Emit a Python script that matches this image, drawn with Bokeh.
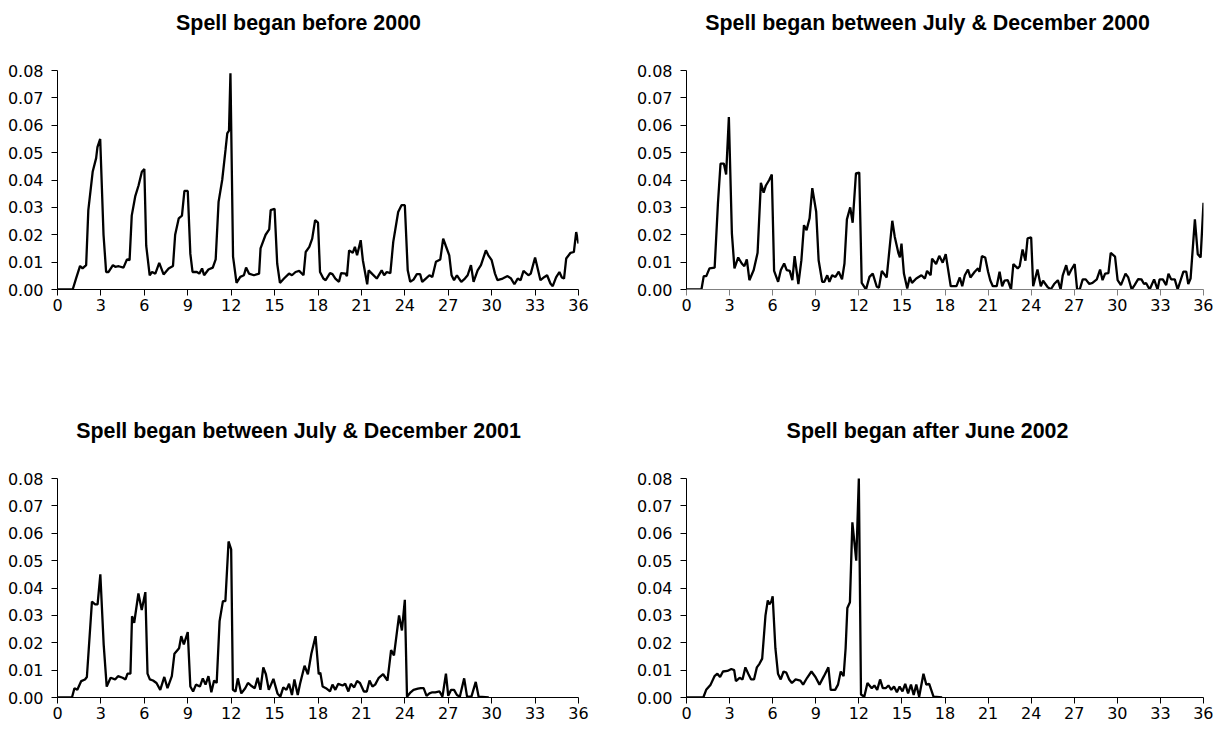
from bokeh.plotting import figure
from bokeh.models import Range1d, FixedTicker, NumeralTickFormatter, Label
from bokeh.layouts import row, column
from bokeh.embed import file_html
from bokeh.resources import INLINE

# months since the spell began, and the exit rate read at each point
months_before_2000 = [
    0, 1.05, 1.28, 1.56, 1.73, 1.98, 2.13, 2.43, 2.67, 2.76, 2.95, 3.18, 3.36, 3.53,
    3.83, 3.99, 4.23, 4.56, 4.8, 4.98, 5.13, 5.37, 5.6, 5.83, 6.0, 6.13, 6.37, 6.53,
    6.76, 7.03, 7.33, 7.68, 7.98, 8.13, 8.38, 8.6, 8.77, 9.0, 9.18, 9.33, 9.63, 9.8,
    9.99, 10.13, 10.43, 10.73, 10.93, 11.13, 11.38, 11.61, 11.73, 11.85, 11.95, 12.13,
    12.37, 12.63, 12.88, 13.03, 13.23, 13.57, 13.93, 14.03, 14.38, 14.63, 14.73, 15.0,
    15.18, 15.37, 15.65, 16.0, 16.2, 16.45, 16.7, 17.0, 17.15, 17.4, 17.6, 17.8, 18.0,
    18.14, 18.37, 18.53, 18.83, 19.0, 19.2, 19.45, 19.6, 19.9, 20.0, 20.15, 20.4,
    20.55, 20.7, 20.95, 21.1, 21.4, 21.5, 21.76, 22.06, 22.4, 22.57, 22.75, 23.0,
    23.2, 23.54, 23.77, 24.0, 24.2, 24.37, 24.6, 24.83, 25.06, 25.2, 25.45, 25.7,
    25.9, 26.15, 26.45, 26.65, 26.84, 27.07, 27.23, 27.4, 27.6, 27.9, 28.15, 28.34,
    28.57, 28.75, 29.03, 29.26, 29.6, 29.77, 30.0, 30.23, 30.4, 30.76, 31.1, 31.34,
    31.57, 31.8, 32.0, 32.2, 32.54, 32.7, 33.0, 33.37, 33.65, 33.83, 34.06, 34.22,
    34.45, 34.68, 34.85, 35.0, 35.15, 35.45, 35.68, 35.84, 36.0,
]
rate_before_2000 = [
    0, 0, 0.004, 0.0086, 0.0077, 0.0089, 0.029, 0.043, 0.048, 0.052, 0.055, 0.020,
    0.0064, 0.0064, 0.0089, 0.0083, 0.0085, 0.008, 0.011, 0.0107, 0.027, 0.034, 0.038,
    0.043, 0.044, 0.016, 0.0052, 0.0064, 0.0058, 0.0097, 0.0055, 0.0077, 0.0086, 0.020,
    0.026, 0.027, 0.036, 0.036, 0.013, 0.0064, 0.0064, 0.0058, 0.0077, 0.0052, 0.0073,
    0.008, 0.011, 0.032, 0.040, 0.051, 0.057, 0.058, 0.079, 0.012, 0.0024, 0.0046,
    0.0052, 0.008, 0.0058, 0.0052, 0.0058, 0.015, 0.020, 0.022, 0.029, 0.0295, 0.0095,
    0.0024, 0.004, 0.0058, 0.0052, 0.0064, 0.0068, 0.0052, 0.0137, 0.0156, 0.0186,
    0.0253, 0.0244, 0.0064, 0.004, 0.0034, 0.006, 0.0056, 0.004, 0.0028, 0.006, 0.0058,
    0.0049, 0.0143, 0.0134, 0.0156, 0.0125, 0.018, 0.0107, 0.0019, 0.007, 0.0056,
    0.004, 0.007, 0.0052, 0.0064, 0.006, 0.0174, 0.0283, 0.0308, 0.0308, 0.007, 0.0028,
    0.0036, 0.0056, 0.0056, 0.0028, 0.004, 0.0052, 0.0046, 0.0101, 0.011, 0.0186,
    0.0158, 0.0125, 0.0052, 0.0034, 0.0052, 0.0028, 0.004, 0.0052, 0.0089, 0.0028,
    0.007, 0.0089, 0.0143, 0.0125, 0.0107, 0.0058, 0.0034, 0.004, 0.0049, 0.004,
    0.0019, 0.004, 0.0034, 0.0068, 0.0052, 0.0058, 0.0117, 0.0034, 0.0046, 0.0052,
    0.0022, 0.0012, 0.0044, 0.0064, 0.0044, 0.004, 0.0113, 0.0134, 0.0137, 0.021, 0.0168,
]

months_jul_dec_2000 = [
    0, 1.04, 1.2, 1.38, 1.6, 1.96, 2.19, 2.37, 2.6, 2.76, 2.95, 3.16, 3.34, 3.6, 3.85,
    4.03, 4.2, 4.38, 4.68, 4.95, 5.18, 5.37, 5.53, 5.76, 5.94, 6.1, 6.38, 6.57, 6.8,
    6.98, 7.19, 7.37, 7.53, 7.79, 8.0, 8.18, 8.36, 8.57, 8.76, 9.03, 9.2, 9.45, 9.6,
    9.8, 9.95, 10.14, 10.37, 10.6, 10.83, 11.0, 11.17, 11.4, 11.57, 11.8, 12.03, 12.2,
    12.5, 12.74, 12.97, 13.25, 13.4, 13.6, 13.94, 14.33, 14.5, 14.75, 14.86, 14.97,
    15.14, 15.37, 15.55, 15.7, 16.0, 16.36, 16.6, 16.75, 17.0, 17.1, 17.38, 17.6, 17.84,
    18.05, 18.4, 18.8, 19.03, 19.2, 19.38, 19.6, 19.77, 20.07, 20.3, 20.4, 20.57, 20.8,
    21.0, 21.15, 21.33, 21.6, 21.8, 21.98, 22.14, 22.37, 22.6, 22.76, 23.06, 23.2, 23.4,
    23.6, 23.75, 24.0, 24.14, 24.44, 24.67, 24.83, 25.13, 25.36, 25.6, 25.86, 26.05,
    26.2, 26.44, 26.6, 26.8, 27.03, 27.2, 27.38, 27.59, 27.8, 28.05, 28.27, 28.57, 28.8,
    28.97, 29.15, 29.38, 29.54, 29.84, 30.02, 30.25, 30.57, 30.76, 31.0, 31.2, 31.45,
    31.68, 31.86, 32.0, 32.25, 32.56, 32.8, 32.94, 33.17, 33.4, 33.56, 33.75, 34.0, 34.2,
    34.6, 34.8, 34.94, 35.1, 35.4, 35.6, 35.8, 36.0,
]
rate_jul_dec_2000 = [
    0, 0, 0.0049, 0.0049, 0.0077, 0.008, 0.0315, 0.046, 0.046, 0.042, 0.063, 0.0205,
    0.0077, 0.0117, 0.0095, 0.0085, 0.011, 0.0034, 0.0071, 0.0134, 0.039, 0.0354, 0.038,
    0.040, 0.042, 0.0068, 0.0028, 0.0071, 0.0095, 0.0071, 0.0068, 0.0034, 0.0122, 0.002,
    0.0107, 0.0235, 0.0217, 0.026, 0.037, 0.0284, 0.0107, 0.0028, 0.0028, 0.0052, 0.0028,
    0.0052, 0.0046, 0.0065, 0.0037, 0.0095, 0.0256, 0.030, 0.0244, 0.0424, 0.0427,
    0.0024, 0.0, 0.0046, 0.0058, 0.001, 0.0007, 0.0068, 0.0044, 0.0251, 0.0193, 0.0134,
    0.0117, 0.0168, 0.0058, 0.0004, 0.0046, 0.0024, 0.004, 0.0052, 0.004, 0.0068, 0.0052,
    0.0113, 0.0093, 0.0123, 0.0098, 0.0129, 0.0012, 0.0012, 0.0044, 0.0012, 0.0052,
    0.0073, 0.0044, 0.0065, 0.0077, 0.0065, 0.0122, 0.0117, 0.0065, 0.0034, 0.0012,
    0.0012, 0.0065, 0.0012, 0.0032, 0.0034, 0.0, 0.0093, 0.0077, 0.0085, 0.0146, 0.0105,
    0.0187, 0.019, 0.0012, 0.0073, 0.0012, 0.0032, 0.001, 0.0, 0.002, 0.0034, 0.0,
    0.0052, 0.0089, 0.0052, 0.0073, 0.0093, 0.0, 0.0, 0.0037, 0.0037, 0.002, 0.0024,
    0.0037, 0.0073, 0.0034, 0.0058, 0.006, 0.0134, 0.012, 0.0034, 0.0016, 0.0058, 0.0044,
    0.0, 0.0016, 0.0038, 0.0037, 0.002, 0.0024, 0.0, 0.0037, 0.0, 0.0037, 0.0037, 0.0016,
    0.0058, 0.0037, 0.0037, 0.0, 0.0065, 0.0065, 0.002, 0.004, 0.0256, 0.0129, 0.0117,
    0.0317,
]

months_jul_dec_2001 = [
    0, 1.0, 1.17, 1.37, 1.64, 1.9, 2.03, 2.38, 2.6, 2.77, 2.96, 3.19, 3.4, 3.67, 3.98,
    4.18, 4.5, 4.7, 4.84, 5.04, 5.15, 5.3, 5.59, 5.82, 6.07, 6.22, 6.38, 6.6, 6.84, 7.1,
    7.38, 7.6, 7.9, 8.08, 8.4, 8.55, 8.73, 9.0, 9.18, 9.37, 9.57, 9.84, 10.04, 10.23,
    10.43, 10.63, 10.82, 11.0, 11.2, 11.43, 11.6, 11.82, 12.0, 12.12, 12.3, 12.46, 12.7,
    12.97, 13.16, 13.36, 13.63, 13.83, 14.02, 14.22, 14.4, 14.6, 14.92, 15.2, 15.4, 15.6,
    15.82, 16.0, 16.2, 16.37, 16.6, 16.76, 17.07, 17.3, 17.54, 17.83, 18.05, 18.16,
    18.32, 18.55, 18.83, 19.0, 19.2, 19.4, 19.7, 19.88, 20.1, 20.27, 20.5, 20.7, 20.9,
    21.17, 21.37, 21.56, 21.76, 21.95, 22.2, 22.5, 22.8, 23.05, 23.25, 23.6, 23.8, 24.0,
    24.15, 24.4, 24.6, 24.9, 25.1, 25.3, 25.5, 25.7, 25.9, 26.1, 26.4, 26.6, 26.84, 27.0,
    27.2, 27.4, 27.6, 27.8, 28.1, 28.3, 28.6, 28.9, 29.1, 29.8,
]
rate_jul_dec_2001 = [
    0, 0, 0.0034, 0.0028, 0.006, 0.0066, 0.0075, 0.035, 0.034, 0.034, 0.045, 0.0194,
    0.004, 0.0072, 0.0066, 0.0078, 0.0072, 0.0066, 0.0087, 0.0087, 0.0297, 0.0273, 0.038,
    0.032, 0.0385, 0.0087, 0.0066, 0.0062, 0.0053, 0.0028, 0.0075, 0.0034, 0.0078, 0.016,
    0.018, 0.0224, 0.0194, 0.0239, 0.004, 0.0022, 0.0047, 0.004, 0.007, 0.0047, 0.0078,
    0.0019, 0.0062, 0.0053, 0.0279, 0.0352, 0.0352, 0.057, 0.0541, 0.0028, 0.0022, 0.007,
    0.0015, 0.0034, 0.0053, 0.0044, 0.0034, 0.0072, 0.0028, 0.011, 0.0085, 0.0028, 0.0068,
    0.0015, 0.0003, 0.0037, 0.0028, 0.005, 0.0009, 0.0066, 0.0009, 0.005, 0.0116, 0.0085,
    0.016, 0.0224, 0.0085, 0.0091, 0.004, 0.0034, 0.0022, 0.0047, 0.0028, 0.005, 0.0044,
    0.005, 0.0022, 0.005, 0.0037, 0.006, 0.0053, 0.0022, 0.0022, 0.0062, 0.004, 0.0047,
    0.0072, 0.0085, 0.0062, 0.0173, 0.0154, 0.030, 0.0245, 0.0357, 0.0003, 0.0019, 0.0028,
    0.0032, 0.0034, 0.0034, 0.0006, 0.0015, 0.0019, 0.0019, 0.0022, 0.0003, 0.0087,
    0.0006, 0.0028, 0.0028, 0.0009, 0.0003, 0.007, 0.0003, 0.0003, 0.0057, 0.0003, 0.0,
]

months_after_jun_2002 = [
    0, 1.17, 1.37, 1.68, 1.95, 2.15, 2.34, 2.54, 2.85, 3.12, 3.32, 3.44, 3.7, 3.9, 4.1,
    4.3, 4.5, 4.7, 4.9, 5.08, 5.27, 5.5, 5.66, 5.77, 5.9, 6.0, 6.19, 6.37, 6.56, 6.76,
    6.95, 7.15, 7.34, 7.6, 7.93, 8.12, 8.4, 8.7, 8.98, 9.26, 9.57, 9.88, 10.04, 10.35,
    10.55, 10.74, 10.94, 11.08, 11.2, 11.38, 11.55, 11.82, 12.0, 12.15, 12.38, 12.6, 12.9,
    13.08, 13.28, 13.48, 13.67, 13.87, 14.06, 14.26, 14.45, 14.65, 14.84, 15.04, 15.23,
    15.43, 15.63, 15.82, 16.0, 16.2, 16.5, 16.7, 16.9, 17.2, 17.8,
]
rate_after_jun_2002 = [
    0, 0, 0.0028, 0.0047, 0.0078, 0.0087, 0.0075, 0.0095, 0.0097, 0.0104, 0.01, 0.006,
    0.0072, 0.0066, 0.011, 0.0087, 0.0066, 0.0066, 0.011, 0.0123, 0.0142, 0.030, 0.0355,
    0.034, 0.035, 0.037, 0.018, 0.0087, 0.0066, 0.0095, 0.0091, 0.0066, 0.0053, 0.0066,
    0.0062, 0.0047, 0.0072, 0.0095, 0.0075, 0.0047, 0.0078, 0.011, 0.0028, 0.0028, 0.0047,
    0.0095, 0.0078, 0.018, 0.0327, 0.0348, 0.064, 0.050, 0.080, 0.0011, 0.0003, 0.0053,
    0.0034, 0.0044, 0.0028, 0.0066, 0.0034, 0.0034, 0.0044, 0.0028, 0.004, 0.0019, 0.004,
    0.0022, 0.005, 0.0015, 0.0047, 0.0009, 0.0047, 0.0003, 0.0087, 0.0047, 0.005, 0.0003, 0.0,
]

titles = [
    "Spell began before 2000",
    "Spell began between July & December 2000",
    "Spell began between July & December 2001",
    "Spell began after June 2002",
]
x_ticks = list(range(0, 37, 3))
y_ticks = [0, 0.01, 0.02, 0.03, 0.04, 0.05, 0.06, 0.07, 0.08]
y_max = 0.08

TITLE_FONT = "Liberation Sans"
TICK_FONT = "DejaVu Sans"

# the plot area is stretched up to the figure top so the title can live in it;
# the axis itself only runs from 0 to y_max
AXIS_PX = 219      # height of the 0 .. y_max part
ROOM_PX = 70       # space above it for the title


def make_panel(title, xs, ys, width, height, left, right, bottom, xaxis_color="black"):
    y_top = y_max * (AXIS_PX + ROOM_PX) / AXIS_PX
    p = figure(width=width, height=height, output_backend="svg", toolbar_location=None,
               x_range=Range1d(0, 36), y_range=Range1d(0, y_top),
               min_border_left=left, min_border_right=right,
               min_border_top=0, min_border_bottom=bottom)
    p.outline_line_color = None
    p.grid.visible = False

    p.add_layout(Label(x=241, y=AXIS_PX + 48, x_units="screen", y_units="screen",
                       text=title, text_align="center", text_baseline="alphabetic",
                       text_font=TITLE_FONT, text_font_size="21.4px",
                       text_font_style="bold", text_color="black"))

    p.xaxis.ticker = FixedTicker(ticks=x_ticks)
    p.yaxis.ticker = FixedTicker(ticks=y_ticks)
    p.yaxis.bounds = (0, y_max)
    p.yaxis.formatter = NumeralTickFormatter(format="0.00")
    for ax in (p.xaxis, p.yaxis):
        ax.major_label_text_font = TICK_FONT
        ax.major_label_text_font_size = "16px"
        ax.major_label_text_color = "black"
        ax.major_tick_in = 0
        ax.major_tick_out = 6
        ax.minor_tick_line_color = None
        ax.axis_line_color = "black"
        ax.major_tick_line_color = "black"
    p.xaxis.axis_line_color = xaxis_color
    p.xaxis.major_tick_line_color = xaxis_color
    p.xaxis.major_label_standoff = 3
    p.yaxis.major_label_standoff = 8

    p.line(xs, ys, line_color="black", line_width=2.3)
    return p


p1 = make_panel(titles[0], months_before_2000, rate_before_2000, 633, 408, 57, 55, 119)
p2 = make_panel(titles[1], months_jul_dec_2000, rate_jul_dec_2000, 580, 408, 49, 10, 119,
                xaxis_color="#808080")
p3 = make_panel(titles[2], months_jul_dec_2001, rate_jul_dec_2001, 633, 321, 57, 55, 32)
p4 = make_panel(titles[3], months_after_jun_2002, rate_after_jun_2002, 580, 321, 49, 10, 32)

layout = column(row(p1, p2), row(p3, p4))

open("out.html", "w").write(file_html(layout, INLINE))
